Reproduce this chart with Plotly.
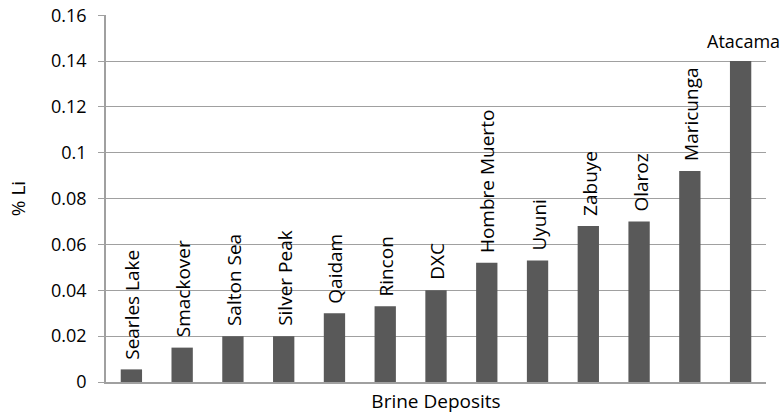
import plotly.graph_objects as go

deposits = ["Searles Lake", "Smackover", "Salton Sea", "Silver Peak", "Qaidam", "Rincon",
            "DXC", "Hombre Muerto", "Uyuni", "Zabuye", "Olaroz", "Maricunga", "Atacama"]
li_pct = [0.0055, 0.015, 0.02, 0.02, 0.03, 0.033, 0.04, 0.052, 0.053, 0.068, 0.07, 0.092, 0.14]
y_ticks = [0, 0.02, 0.04, 0.06, 0.08, 0.1, 0.12, 0.14, 0.16]
y_tick_labels = ["0", "0.02", "0.04", "0.06", "0.08", "0.1", "0.12", "0.14", "0.16"]

FONT = "Open Sans"
GRID = "#a0a0a0"

fig = go.Figure(go.Bar(x=deposits, y=li_pct, marker_color="#595959", marker_line_width=0))

annotations = []
for name, v in zip(deposits, li_pct):
    horizontal = name == "Atacama"
    annotations.append(dict(
        x=name, y=v, xref="x", yref="y", text=name, showarrow=False,
        textangle=0 if horizontal else -90,
        xanchor="center", yanchor="bottom",
        xshift=3 if horizontal else 1,
        yshift=6 if horizontal else 8,
        font=dict(family=FONT, size=18 if horizontal else 19, color="#000000"),
    ))

fig.update_layout(
    width=781, height=414,
    margin=dict(l=106, r=15, t=15, b=32),
    paper_bgcolor="white", plot_bgcolor="white",
    bargap=0.58,
    showlegend=False,
    annotations=annotations,
    font=dict(family=FONT, size=18, color="#000000"),
    xaxis=dict(
        automargin=False,
        range=[-0.5, len(deposits) - 0.5],
        showticklabels=False, ticks="", showgrid=False,
        showline=True, linecolor=GRID, linewidth=1.5,
        title=dict(text="Brine Deposits", standoff=13, font=dict(family=FONT, size=19)),
    ),
    yaxis=dict(
        automargin=False,
        range=[0, 0.1601], tickvals=y_ticks, ticktext=y_tick_labels,
        ticklabeloverflow="allow",
        showgrid=True, gridcolor=GRID, gridwidth=1.2,
        showline=True, linecolor=GRID, linewidth=1.5,
        ticks="outside", ticklen=6, tickcolor=GRID, tickwidth=1.2, ticklabelstandoff=8,
        zeroline=False,
        tickfont=dict(family=FONT, size=18),
        title=dict(text="% Li", standoff=20, font=dict(family=FONT, size=19)),
    ),
)

fig.write_html("out.html", config={"displayModeBar": False},
               post_script="document.body.style.margin='0';")
